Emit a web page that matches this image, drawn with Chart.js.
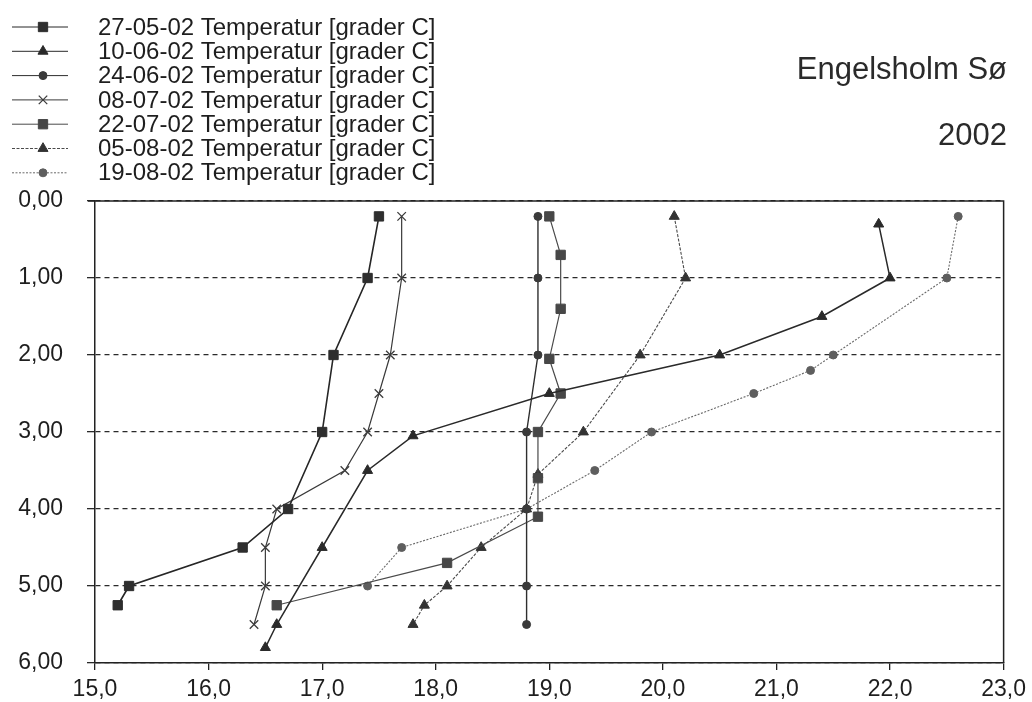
<!DOCTYPE html>
<html>
<head>
<meta charset="utf-8">
<script src="https://cdn.jsdelivr.net/npm/chart.js@4/dist/chart.umd.min.js"></script>
<style>
  html, body { margin: 0; padding: 0; background: #ffffff; }
  #wrap { width: 1032px; height: 702px; }
</style>
</head>
<body>
<div id="wrap"><canvas id="c" width="1032" height="702"></canvas></div>
<script>
// ---- data ----
const seriesLabels = [
  '27-05-02 Temperatur [grader C]',
  '10-06-02 Temperatur [grader C]',
  '24-06-02 Temperatur [grader C]',
  '08-07-02 Temperatur [grader C]',
  '22-07-02 Temperatur [grader C]',
  '05-08-02 Temperatur [grader C]',
  '19-08-02 Temperatur [grader C]'
];
const depth2705 = [0.2, 1.0, 2.0, 3.0, 4.0, 4.5, 5.0, 5.25];
const temp2705  = [17.5, 17.4, 17.1, 17.0, 16.7, 16.3, 15.3, 15.2];
const depth1006 = [0.3, 1.0, 1.5, 2.0, 2.5, 3.05, 3.5, 4.5, 5.5, 5.8];
const temp1006  = [21.9, 22.0, 21.4, 20.5, 19.0, 17.8, 17.4, 17.0, 16.6, 16.5];
const depth2406 = [0.2, 1.0, 2.0, 3.0, 4.0, 5.0, 5.5];
const temp2406  = [18.9, 18.9, 18.9, 18.8, 18.8, 18.8, 18.8];
const depth0807 = [0.2, 1.0, 2.0, 2.5, 3.0, 3.5, 4.0, 4.5, 5.0, 5.5];
const temp0807  = [17.7, 17.7, 17.6, 17.5, 17.4, 17.2, 16.6, 16.5, 16.5, 16.4];
const depth2207 = [0.2, 0.7, 1.4, 2.05, 2.5, 3.0, 3.6, 4.1, 4.7, 5.25];
const temp2207  = [19.0, 19.1, 19.1, 19.0, 19.1, 18.9, 18.9, 18.9, 18.1, 16.6];
const depth0508 = [0.2, 1.0, 2.0, 3.0, 3.55, 4.0, 4.5, 5.0, 5.25, 5.5];
const temp0508  = [20.1, 20.2, 19.8, 19.3, 18.9, 18.8, 18.4, 18.1, 17.9, 17.8];
const depth1908 = [0.2, 1.0, 2.0, 2.2, 2.5, 3.0, 3.5, 4.0, 4.5, 5.0];
const temp1908  = [22.6, 22.5, 21.5, 21.3, 20.8, 19.9, 19.4, 18.8, 17.7, 17.4];

const xTickLabels = ['15,0','16,0','17,0','18,0','19,0','20,0','21,0','22,0','23,0'];
const yTickLabels = ['0,00','1,00','2,00','3,00','4,00','5,00','6,00'];
const titleText = 'Engelsholm Sø';
const subtitleText = '2002';

// ---- styles ----
const FONT = '"Liberation Sans", Arial, Helvetica, sans-serif';
const depths = [depth2705, depth1006, depth2406, depth0807, depth2207, depth0508, depth1908];
const temps  = [temp2705, temp1006, temp2406, temp0807, temp2207, temp0508, temp1908];
const styles = [
  { point: 'rect',     r: 6.6, color: '#2e2e2e', line: '#262626', width: 1.6, dash: [] },
  { point: 'triangle', r: 5.8, color: '#2a2a2a', line: '#2a2a2a', width: 1.5, dash: [] },
  { point: 'circle',   r: 4.0, color: '#3a3a3a', line: '#2e2e2e', width: 1.4, dash: [] },
  { point: 'crossRot', r: 6.0, color: '#3c3c3c', line: '#3a3a3a', width: 1.2, dash: [] },
  { point: 'rect',     r: 6.6, color: '#474747', line: '#4a4a4a', width: 1.2, dash: [] },
  { point: 'triangle', r: 5.8, color: '#333333', line: '#4a4a4a', width: 1.1, dash: [3, 1.5] },
  { point: 'circle',   r: 4.0, color: '#5e5e5e', line: '#6a6a6a', width: 1.1, dash: [2, 1.5] }
];

const datasets = seriesLabels.map((lab, i) => ({
  label: lab,
  data: temps[i].map((t, k) => ({ x: t, y: depths[i][k] })),
  showLine: true,
  borderColor: styles[i].line,
  borderWidth: styles[i].width,
  borderDash: styles[i].dash,
  pointStyle: styles[i].point,
  pointRadius: styles[i].r,
  pointHoverRadius: styles[i].r,
  pointBackgroundColor: styles[i].color,
  pointBorderColor: styles[i].color,
  pointBorderWidth: styles[i].point === 'crossRot' ? 1.3 : 1,
  tension: 0,
  fill: false
}));

function drawMarker(ctx, style, x, y, r, color) {
  ctx.save();
  ctx.fillStyle = color;
  ctx.strokeStyle = color;
  ctx.lineWidth = 1;
  ctx.setLineDash([]);
  ctx.beginPath();
  if (style === 'rect') {
    const s = Math.SQRT1_2 * r;
    ctx.rect(x - s, y - s, 2 * s, 2 * s);
    ctx.fill(); ctx.stroke();
  } else if (style === 'triangle') {
    ctx.moveTo(x, y - r);
    ctx.lineTo(x + r * Math.sin(2 * Math.PI / 3), y - r * Math.cos(2 * Math.PI / 3));
    ctx.lineTo(x + r * Math.sin(4 * Math.PI / 3), y - r * Math.cos(4 * Math.PI / 3));
    ctx.closePath();
    ctx.fill(); ctx.stroke();
  } else if (style === 'circle') {
    ctx.arc(x, y, r, 0, Math.PI * 2);
    ctx.fill(); ctx.stroke();
  } else if (style === 'crossRot') {
    const s = Math.SQRT1_2 * r;
    ctx.lineWidth = 1.3;
    ctx.moveTo(x - s, y - s); ctx.lineTo(x + s, y + s);
    ctx.moveTo(x + s, y - s); ctx.lineTo(x - s, y + s);
    ctx.stroke();
  }
  ctx.restore();
}

const framePlugin = {
  id: 'frame',
  beforeDatasetsDraw(chart) {
    const a = chart.chartArea, ctx = chart.ctx;
    ctx.save();
    ctx.strokeStyle = '#222';
    ctx.lineWidth = 1.5;
    ctx.setLineDash([]);
    ctx.beginPath();
    ctx.moveTo(a.left - 7, a.top); ctx.lineTo(a.right, a.top);
    ctx.lineTo(a.right, a.bottom);
    ctx.stroke();
    ctx.restore();
  },
  afterDraw(chart) {
    const ctx = chart.ctx;
    ctx.save();
    // legend
    chart.data.datasets.forEach((ds, i) => {
      const y = 27 + i * 24.3;
      const st = styles[i];
      ctx.save();
      ctx.strokeStyle = st.line;
      ctx.lineWidth = 1;
      ctx.setLineDash(st.dash);
      ctx.beginPath();
      ctx.moveTo(12, y); ctx.lineTo(68, y);
      ctx.stroke();
      ctx.restore();
      drawMarker(ctx, st.point, 43, y, st.r, st.color);
      ctx.fillStyle = '#1e1e1e';
      ctx.font = '24px ' + FONT;
      ctx.textAlign = 'left';
      ctx.textBaseline = 'middle';
      ctx.fillText(ds.label, 98, y + 1);
    });
    // title
    ctx.fillStyle = '#2a2a2a';
    ctx.font = '31px ' + FONT;
    ctx.textAlign = 'right';
    ctx.textBaseline = 'alphabetic';
    ctx.fillText(titleText, 1007, 79);
    ctx.fillText(subtitleText, 1007, 145);
    ctx.restore();
  }
};

new Chart(document.getElementById('c'), {
  type: 'scatter',
  data: { datasets },
  plugins: [framePlugin],
  options: {
    responsive: false,
    animation: false,
    devicePixelRatio: 1,
    layout: { padding: { top: 201, right: 27, left: 0, bottom: 0 } },
    plugins: { legend: { display: false }, tooltip: { enabled: false }, title: { display: false } },
    scales: {
      x: {
        type: 'linear', position: 'bottom', min: 15, max: 23,
        ticks: {
          stepSize: 1, autoSkip: false, maxRotation: 0, padding: 6,
          color: '#1e1e1e', font: { family: FONT, size: 23 },
          callback: (v) => xTickLabels[Math.round(v - 15)]
        },
        grid: { drawOnChartArea: false, drawTicks: true, tickLength: 7, color: '#222', lineWidth: 1.3 },
        border: { display: true, color: '#222', width: 1.5 },
        afterFit(s) { s.height = 39; }
      },
      y: {
        type: 'linear', position: 'left', reverse: true, min: 0, max: 6,
        ticks: {
          stepSize: 1, autoSkip: false, padding: 24,
          color: '#1e1e1e', font: { family: FONT, size: 23 },
          callback: (v) => yTickLabels[Math.round(v)]
        },
        grid: { drawOnChartArea: true, drawTicks: true, tickLength: 8, color: '#2a2a2a', lineWidth: 1.3, tickBorderDash: [] },
        border: { display: true, color: '#222', width: 1.5, dash: [5, 4] },
        afterFit(s) { s.width = 95; }
      }
    }
  }
});
</script>
</body>
</html>
